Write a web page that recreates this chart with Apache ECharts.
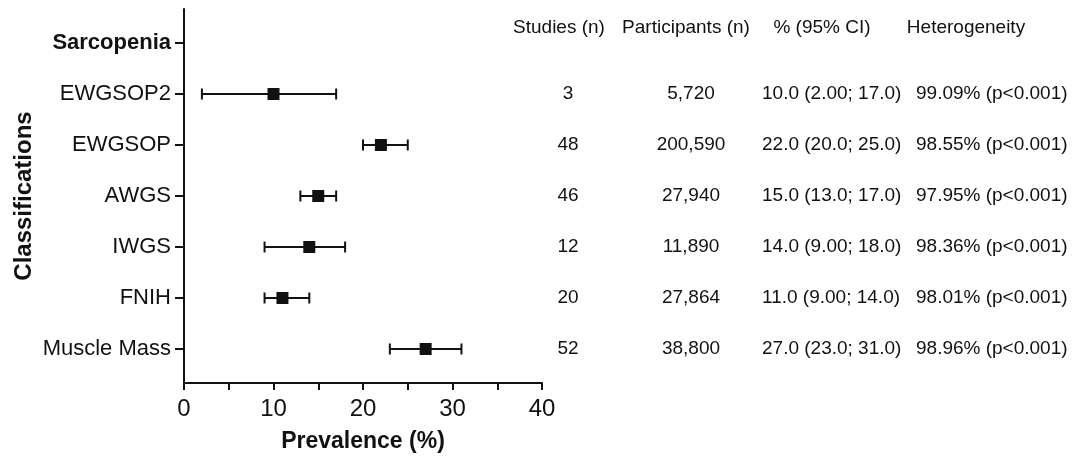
<!DOCTYPE html>
<html>
<head>
<meta charset="utf-8">
<script src="https://cdn.jsdelivr.net/npm/echarts@6/dist/echarts.min.js"></script>
<style>
  html, body { margin: 0; padding: 0; background: #fff; }
  #chart { width: 1074px; height: 459px; }
</style>
</head>
<body>
<div id="chart"></div>
<script>
// ---- data ----
const categories = ['Sarcopenia', 'EWGSOP2', 'EWGSOP', 'AWGS', 'IWGS', 'FNIH', 'Muscle Mass'];
const estimate = [null, 10, 22, 15, 14, 11, 27];
const lower = [null, 2, 20, 13, 9, 9, 23];
const upper = [null, 17, 25, 17, 18, 14, 31];
const studies = [null, 3, 48, 46, 12, 20, 52];
const participants = [null, 5720, 200590, 27940, 11890, 27864, 38800];
const heterogeneity = [null, 99.09, 98.55, 97.95, 98.36, 98.01, 98.96];
const tableHeaders = ['Studies (n)', 'Participants (n)', '% (95% CI)', 'Heterogeneity'];
const xTickLabels = [0, 10, 20, 30, 40];
const boldCategories = ['Sarcopenia'];

// ---- layout ----
const FONT = '"Liberation Sans", Arial, Helvetica, sans-serif';
const INK = '#111';
const TABLE_FS = 19;
const headerY = 28;
const headerX = [559, 686, 822, 966];
const colX = [568, 691, 762, 916];
const colAlign = ['center', 'center', 'left', 'left'];

const chart = echarts.init(document.getElementById('chart'), null, { renderer: 'canvas' });

const catIdx = categories.map((c, i) => i);
const errData = [];
const ptData = [];
categories.forEach((c, i) => {
  if (estimate[i] != null) {
    errData.push([i, lower[i], upper[i]]);
    ptData.push([estimate[i], i]);
  }
});

chart.setOption({
  animation: false,
  textStyle: { fontFamily: FONT },
  grid: { left: 184, top: 9, width: 358, height: 374 },
  xAxis: {
    type: 'value', min: 0, max: 40, interval: 5,
    axisLine: { show: true, onZero: false, lineStyle: { color: INK, width: 2 } },
    axisTick: { show: true, length: 7, lineStyle: { color: INK, width: 2 } },
    axisLabel: { customValues: xTickLabels, fontSize: 24, color: INK, margin: 14, fontFamily: FONT },
    splitLine: { show: false },
    name: 'Prevalence (%)', nameLocation: 'middle', nameGap: 47,
    nameTextStyle: { fontSize: 23, fontWeight: 'bold', color: INK, fontFamily: FONT }
  },
  yAxis: {
    type: 'value', inverse: true, min: -0.667, max: 6.667,
    axisLine: { show: true, onZero: false, lineStyle: { color: INK, width: 2 } },
    axisTick: { show: true, customValues: catIdx, length: 9, lineStyle: { color: INK, width: 2 } },
    axisLabel: {
      customValues: catIdx, fontSize: 22, color: INK, margin: 13, fontFamily: FONT,
      formatter: v => {
        const name = categories[Math.round(v)];
        return boldCategories.includes(name) ? '{b|' + name + '}' : name;
      },
      rich: { b: { fontWeight: 'bold', fontSize: 22, color: INK, fontFamily: FONT } }
    },
    splitLine: { show: false },
    name: 'Classifications', nameLocation: 'middle', nameRotate: 90, nameGap: 148,
    nameTextStyle: { fontSize: 24, fontWeight: 'bold', color: INK, fontFamily: FONT }
  },
  series: [
    {
      type: 'custom',
      data: errData,
      encode: { x: [1, 2], y: 0 },
      renderItem: (params, api) => {
        const y = api.value(0);
        const a = api.coord([api.value(1), y]);
        const b = api.coord([api.value(2), y]);
        const h = 5.5;
        const st = { stroke: INK, lineWidth: 2 };
        return {
          type: 'group',
          children: [
            { type: 'line', shape: { x1: a[0], y1: a[1], x2: b[0], y2: b[1] }, style: st },
            { type: 'line', shape: { x1: a[0], y1: a[1] - h, x2: a[0], y2: a[1] + h }, style: st },
            { type: 'line', shape: { x1: b[0], y1: b[1] - h, x2: b[0], y2: b[1] + h }, style: st }
          ]
        };
      },
      z: 2
    },
    {
      type: 'scatter',
      data: ptData,
      symbol: 'rect',
      symbolSize: 12,
      itemStyle: { color: INK, opacity: 1 },
      z: 3
    }
  ]
});

// ---- table text ----
const graphics = [];
function txt(x, y, text, align) {
  graphics.push({
    type: 'text', x: x, y: y, silent: true,
    style: {
      text: text, fill: INK, font: TABLE_FS + 'px ' + FONT,
      fontSize: TABLE_FS, fontFamily: FONT,
      align: align, verticalAlign: 'middle',
      textAlign: align, textVerticalAlign: 'middle'
    }
  });
}
tableHeaders.forEach((h, j) => txt(headerX[j], headerY, h, 'center'));
categories.forEach((c, i) => {
  if (studies[i] == null) return;
  const y = chart.convertToPixel({ yAxisIndex: 0 }, i);
  const cells = [
    String(studies[i]),
    participants[i].toLocaleString('en-US'),
    estimate[i].toPrecision(3) + ' (' + lower[i].toPrecision(3) + '; ' + upper[i].toPrecision(3) + ')',
    heterogeneity[i].toFixed(2) + '% (p<0.001)'
  ];
  cells.forEach((t, j) => txt(colX[j], y, t, colAlign[j]));
});
chart.setOption({ graphic: graphics });
</script>
</body>
</html>
